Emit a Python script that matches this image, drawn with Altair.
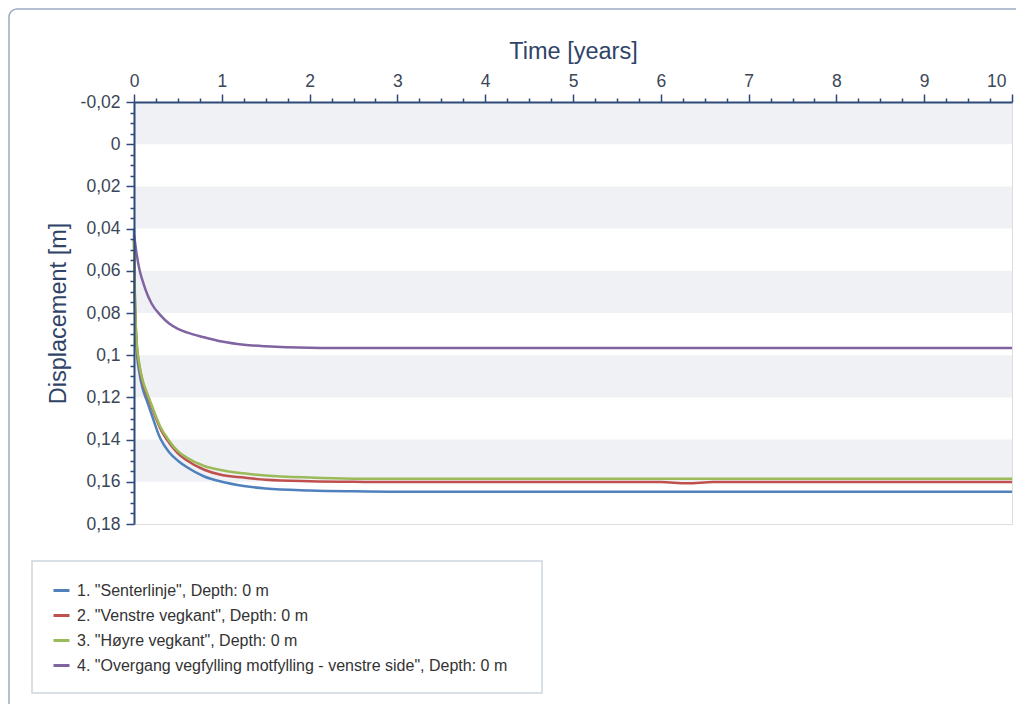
import altair as alt
import pandas as pd

# ---- data ----
time_years = [0, 0.01, 0.03, 0.06, 0.1, 0.15, 0.2, 0.3, 0.4, 0.5, 0.6, 0.8, 1.0, 1.25,
              1.5, 2.0, 2.5, 3, 4, 5, 6, 6.3, 6.6, 7, 8, 9, 10]

series_names = [
    '1. "Senterlinje", Depth: 0 m',
    '2. "Venstre vegkant", Depth: 0 m',
    '3. "Høyre vegkant", Depth: 0 m',
    '4. "Overgang vegfylling motfylling - venstre side", Depth: 0 m',
]
series_colors = ["#4f81bd", "#c0504d", "#9bbb59", "#8064a2"]

senterlinje = [0.040, 0.076, 0.097, 0.108, 0.116, 0.122, 0.128, 0.1395, 0.146, 0.150,
               0.153, 0.1575, 0.1600, 0.1620, 0.1632, 0.1641, 0.1645, 0.1647, 0.1647, 0.1647,
               0.1647, 0.1647, 0.1647, 0.1647, 0.1647, 0.1647, 0.1647]
venstre = [0.045, 0.073, 0.094, 0.105, 0.113, 0.119, 0.1245, 0.1348, 0.1415, 0.1465,
           0.1498, 0.1543, 0.1568, 0.158, 0.159, 0.1597, 0.1600, 0.1601, 0.1601, 0.1601,
           0.1601, 0.1607, 0.1601, 0.1601, 0.1601, 0.1601, 0.1601]
hoyre = [0.045, 0.072, 0.093, 0.104, 0.112, 0.118, 0.1235, 0.1339, 0.1405, 0.1455,
         0.1485, 0.1525, 0.1545, 0.1560, 0.157, 0.1580, 0.1585, 0.1586, 0.1586, 0.1586,
         0.1586, 0.1586, 0.1586, 0.1586, 0.1586, 0.1586, 0.1586]
overgang = [0.043, 0.046, 0.052, 0.059, 0.065, 0.071, 0.0755, 0.081, 0.085, 0.0875,
            0.0892, 0.0915, 0.0935, 0.095, 0.0958, 0.0965, 0.0966, 0.0966, 0.0966, 0.0966,
            0.0966, 0.0966, 0.0966, 0.0966, 0.0966, 0.0966, 0.0966]

band_start = [-0.02, 0.02, 0.06, 0.10, 0.14]
band_end = [0.0, 0.04, 0.08, 0.12, 0.16]

x_tick_values = [i * 0.25 for i in range(41)]
y_tick_values = [round(-0.02 + i * 0.005, 3) for i in range(41)]

# ---- tables ----
rows = []
for name, vals in zip(series_names, [senterlinje, venstre, hoyre, overgang]):
    for t, v in zip(time_years, vals):
        rows.append({"t": t, "v": v, "series": name})
df = pd.DataFrame(rows)
bands = pd.DataFrame({"b0": band_start, "b1": band_end})

FONT = "Liberation Sans"
AXIS_COL = "#2e4a78"
TXT_COL = "#3a4658"

x_scale = alt.Scale(domain=[0, 10], nice=False, zero=False)
y_scale = alt.Scale(domain=[-0.02, 0.18], nice=False, zero=False, reverse=True)

x_axis = alt.Axis(
    orient="top", values=x_tick_values, title="Time [years]",
    titleFontSize=23.5, titleFont=FONT, titleFontWeight="normal", titleColor="#2f4468",
    titlePadding=9,
    labelFont=FONT, labelFontSize=17.5, labelColor=TXT_COL, labelPadding=4,
    labelExpr="datum.value % 1 === 0 ? format(datum.value, 'd') : ''",
    labelAlign={"condition": {"test": "datum.value === 10", "value": "right"}, "value": "center"},
    labelOffset={"condition": {"test": "datum.value === 10", "value": -6}, "value": 0},
    tickSize={"condition": {"test": "datum.value % 1 !== 0", "value": 4}, "value": 8},
    tickColor=AXIS_COL, tickWidth=1.5, domainColor=AXIS_COL, domainWidth=2,
    grid=False, zindex=1, labelOverlap=False,
)

major_y = "abs(datum.value*50 - round(datum.value*50)) < 0.001"
y_axis = alt.Axis(
    orient="left", values=y_tick_values, title="Displacement [m]",
    titleFontSize=23.5, titleFont=FONT, titleFontWeight="normal", titleColor="#2f4468",
    titlePadding=10,
    labelFont=FONT, labelFontSize=17.5, labelColor=TXT_COL, labelPadding=6,
    labelExpr="(" + major_y + ") ? replace(replace(format(datum.value, '.2~f'), '.', ','), '\u2212', '-') : ''",
    tickSize={"condition": {"test": major_y, "value": 8}, "value": 4},
    tickColor=AXIS_COL, tickWidth=1.5, domainColor=AXIS_COL, domainWidth=2,
    grid=False, zindex=1, labelOverlap=False,
)

band_layer = alt.Chart(bands).mark_rect(color="#eff1f5").encode(
    y=alt.Y("b0:Q", scale=y_scale, axis=y_axis),
    y2="b1:Q",
    x=alt.value(0),
    x2=alt.value("width"),
)

line_layer = alt.Chart(df).mark_line(strokeWidth=2.5, interpolate="monotone").encode(
    x=alt.X("t:Q", scale=x_scale, axis=x_axis),
    y=alt.Y("v:Q", scale=y_scale, axis=y_axis),
    color=alt.Color(
        "series:N",
        scale=alt.Scale(domain=series_names, range=series_colors),
        sort=series_names,
        legend=alt.Legend(
            orient="none", legendX=-102, legendY=459, title=None,
            padding=20,
            labelFont=FONT, labelFontSize=16, labelColor="#333333", labelLimit=700,
            symbolType="stroke", symbolSize=256, symbolStrokeWidth=3,
            rowPadding=7, labelOffset=6,
        ),
    ),
    order="t:Q",
)

# decorative legend box and outer frame (centred rects: x/y give the centre)
legend_box = alt.Chart(pd.DataFrame({"f": [0]})).mark_rect(
    fill="white", stroke="#cdd5df", strokeWidth=1.5,
    x=153, y=525, width=510, height=132,
).encode(opacity=alt.value(1))

frame = alt.Chart(pd.DataFrame({"f": [0]})).mark_rect(
    fill="transparent", stroke="#9aaac2", strokeWidth=1.5, cornerRadius=8,
    x=395, y=277, width=1040, height=740,
).encode(opacity=alt.value(1))

chart = alt.layer(band_layer, line_layer, legend_box, frame).properties(
    width=878, height=422,
    padding={"left": 126, "top": 94, "right": 4, "bottom": 180},
    autosize=alt.AutoSizeParams(type="none"),
).configure_view(
    stroke="#c5cfdc", strokeWidth=1
).configure(
    background="white"
)

chart.save("out.html", embed_options={"renderer": "svg", "actions": False})
